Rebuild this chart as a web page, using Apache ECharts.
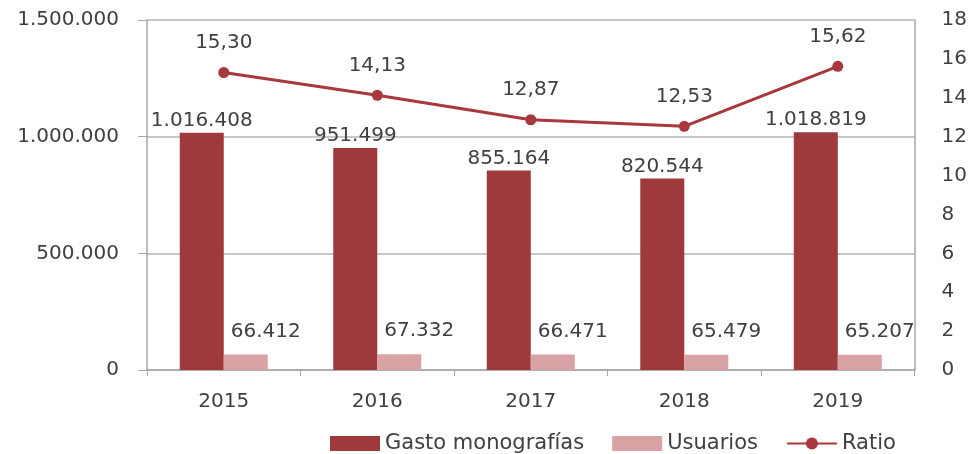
<!DOCTYPE html>
<html>
<head>
<meta charset="utf-8">
<script src="https://cdn.jsdelivr.net/npm/echarts@6/dist/echarts.min.js"></script>
<style>html,body{margin:0;padding:0;background:#fff}#c{width:970px;height:454px}</style>
</head>
<body>
<div id="c"></div>
<script>
const years = ['2015', '2016', '2017', '2018', '2019'];
const gasto = [1016408, 951499, 855164, 820544, 1018819];
const usuarios = [66412, 67332, 66471, 65479, 65207];
const ratio = [15.30, 14.13, 12.87, 12.53, 15.62];
const leftTicks = [0, 500000, 1000000, 1500000];
const rightTicks = [0, 2, 4, 6, 8, 10, 12, 14, 16, 18];

function fmtThousands(v) {
  return String(Math.round(v)).replace(/\B(?=(\d{3})+(?!\d))/g, '.');
}
function fmtDec(v) {
  return v.toFixed(2).replace('.', ',');
}

const FONT = 'DejaVu Sans';
const FS = 20;
const TXT = '#404040';
const chart = echarts.init(document.getElementById('c'));
chart.setOption({
  animation: false,
  textStyle: { fontFamily: FONT },
  grid: { left: 147, right: 55, top: 20, bottom: 84 },
  legend: {
    left: 325, top: 428,
    itemWidth: 50, itemHeight: 15, itemGap: 28,
    textStyle: { fontFamily: FONT, fontSize: 21, color: TXT },
    data: [
      { name: 'Gasto monografías', icon: 'rect' },
      { name: 'Usuarios', icon: 'rect' },
      { name: 'Ratio' }
    ]
  },
  xAxis: {
    type: 'category', data: years,
    axisLine: { lineStyle: { color: '#a6a6a6', width: 1.5 } },
    axisTick: { show: true, length: 6, lineStyle: { color: '#a6a6a6' } },
    axisLabel: { fontFamily: FONT, fontSize: FS, color: TXT, margin: 22 }
  },
  yAxis: [
    {
      type: 'value', min: leftTicks[0], max: leftTicks[leftTicks.length - 1], interval: 500000,
      axisLine: { show: true, lineStyle: { color: '#a6a6a6', width: 1.5 } },
      axisTick: { show: true, length: 9, lineStyle: { color: '#a6a6a6' } },
      splitLine: { lineStyle: { color: '#b4b4b4', width: 1.5 } },
      axisLabel: { fontFamily: FONT, fontSize: FS, color: TXT, margin: 28, formatter: fmtThousands }
    },
    {
      type: 'value', min: rightTicks[0], max: rightTicks[rightTicks.length - 1], interval: 2,
      axisLine: { show: true, lineStyle: { color: '#a6a6a6', width: 1.5 } },
      axisTick: { show: false },
      splitLine: { show: false },
      axisLabel: { fontFamily: FONT, fontSize: FS, color: TXT, margin: 27 }
    }
  ],
  series: [
    {
      name: 'Gasto monografías', type: 'bar', data: gasto, barWidth: 44, barGap: '0%',
      itemStyle: { color: '#9e3a3b' },
      label: { show: true, position: 'top', distance: 2, fontFamily: FONT, fontSize: FS, color: TXT, formatter: p => fmtThousands(p.value) }
    },
    {
      name: 'Usuarios', type: 'bar', data: usuarios, barWidth: 44,
      itemStyle: { color: '#d9a3a6' },
      label: { show: true, position: 'top', distance: 13, offset: [20, 0], fontFamily: FONT, fontSize: FS, color: TXT, formatter: p => fmtThousands(p.value) }
    },
    {
      name: 'Ratio', type: 'line', yAxisIndex: 1, data: ratio,
      symbol: 'circle', symbolSize: 11,
      lineStyle: { color: '#a8383b', width: 3 },
      itemStyle: { color: '#a8383b' },
      label: { show: true, position: 'top', distance: 14, fontFamily: FONT, fontSize: FS, color: TXT, formatter: p => fmtDec(p.value) }
    }
  ]
});
</script>
</body>
</html>
